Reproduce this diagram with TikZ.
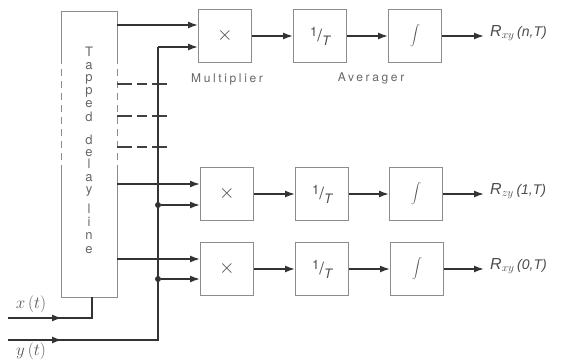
\RequirePackage{fix-cm}
\documentclass[tikz,border=0pt]{standalone}
\usepackage{fontspec}
\setmainfont{TeX Gyre Heros}
\newfontfamily\labfont[LetterSpace=22]{TeX Gyre Heros}
\newfontfamily\rfont{Liberation Sans}
\usetikzlibrary{arrows.meta}
\newcommand{\oneT}{\raisebox{5pt}{\fontsize{13}{15}\selectfont 1}{\fontsize{17}{19}\selectfont /}\raisebox{-4pt}{\fontsize{13}{15}\selectfont\itshape T}}
\begin{document}
\begin{tikzpicture}[x=1pt,y=-1pt,
  wire/.style={draw=black!80, line width=1.6pt},
  arr/.style={wire, -{Latex[length=10pt,width=7pt]}},
  blk/.style={draw=black!45, line width=0.9pt, minimum width=53pt, minimum height=53pt, inner sep=0pt, text=black!70, font=\fontsize{20}{22}\selectfont},
  edgeline/.style={draw=black!45, line width=0.9pt},
  tap/.style={draw=black!75, line width=1.6pt, dash pattern=on 15pt off 5pt on 10pt off 5pt},
  lbl/.style={text=black!60, font=\labfont\fontsize{12}{14}\selectfont, inner sep=0pt},
  dlet/.style={text=black!60, font=\fontsize{13}{15}\selectfont, inner sep=0pt, anchor=base},
  rlab/.style={text=black!70, font=\rfont\itshape\fontsize{16}{18}\selectfont, inner sep=0pt, anchor=west},
  sig/.style={text=black!65, font=\fontsize{17}{19}\selectfont, inner sep=0pt},
  dot/.style={circle, fill=black!80, inner sep=0pt, minimum size=6pt}
]
\useasboundingbox (0,0) rectangle (570,363);

% tapped delay line
\node[minimum width=55pt, minimum height=285pt, inner sep=0pt] (dl) at (89.5,154.5) {};
\coordinate (ds1) at (0,57);
\coordinate (ds2) at (0,172);
\draw[edgeline] (dl.west |- ds1) -- (dl.north west) -- (dl.north east) -- (dl.east |- ds1);
\draw[edgeline] (dl.west |- ds2) -- (dl.south west) -- (dl.south east) -- (dl.east |- ds2);
\draw[edgeline, dash pattern=on 7pt off 5pt] (dl.west |- ds1) -- (dl.west |- ds2);
\draw[edgeline, dash pattern=on 7pt off 5pt] (dl.east |- ds1) -- (dl.east |- ds2);
\foreach \ch/\yy [count=\k] in {T/57,a/70,p/82,p/95,e/108,d/122,d/145,e/157,l/169,a/182,y/194,l/214,i/227,n/240,e/254}
  \node[dlet] (let\k) at (89,\yy) {\ch};

% blocks
\node[blk] (M1) at (225,36) {$\times$};
\node[blk] (A1) at (320,36) {\oneT};
\node[blk] (I1) at (415,36) {$\displaystyle\int$};
\node[blk] (M2) at (227,194) {$\times$};
\node[blk] (A2) at (322,194) {\oneT};
\node[blk] (I2) at (416,194) {$\displaystyle\int$};
\node[blk] (M3) at (227,269) {$\times$};
\node[blk] (A3) at (322,269) {\oneT};
\node[blk] (I3) at (417,269) {$\displaystyle\int$};

\node[lbl] (mlab) at (227,79) {Multiplier};
\node[lbl] (alab) at (371,78) {Averager};

% chains
\draw[arr] (M1) -- (A1);
\draw[arr] (A1) -- (I1);
\draw[arr] (M2) -- (A2);
\draw[arr] (A2) -- (I2);
\draw[arr] (M3) -- (A3);
\draw[arr] (A3) -- (I3);
\coordinate (o1) at (484,36);
\coordinate (o2) at (484,194);
\coordinate (o3) at (484,269);
\draw[arr] (I1) -- (o1);
\draw[arr] (I2) -- (o2);
\draw[arr] (I3) -- (o3);
\node[rlab] (r1) at (490,33) {R$_{xy}$\,{\fontsize{14}{16}\selectfont(n,T)}};
\node[rlab] (r2) at (490,191) {R$_{zy}$\,{\fontsize{14}{16}\selectfont(1,T)}};
\node[rlab] (r3) at (490,266) {R$_{xy}$\,{\fontsize{14}{16}\selectfont(0,T)}};

% taps to multipliers
\draw[arr] (dl.east |- 0,25) -- (M1.west |- 0,25);
\draw[arr] (dl.east |- 0,184) -- (M2.west |- 0,184);
\draw[arr] (dl.east |- 0,259) -- (M3.west |- 0,259);
\draw[tap] (dl.east |- 0,84) -- (167,84);
\draw[tap] (dl.east |- 0,116) -- (167,116);
\draw[tap] (dl.east |- 0,147) -- (167,147);

% y(t) bus
\coordinate (yin) at (8,340);
\coordinate (ymid) at (62,340);
\coordinate (ybus) at (158,340);
\coordinate (ytop) at (158,47);
\node[dot] (j2) at (158,205) {};
\node[dot] (j3) at (158,279) {};
\draw[wire] (yin) -- (ybus) -- (ytop);
\draw[arr] (yin) -- (ymid);
\draw[arr] (ytop) -- (M1.west |- ytop);
\draw[arr] (j2) -- (M2.west |- j2);
\draw[arr] (j3) -- (M3.west |- j3);

% x(t) input
\coordinate (xin) at (8,318);
\coordinate (xmid) at (62,318);
\coordinate (xc) at (92,318);
\draw[wire] (xin) -- (xc) -- (xc |- dl.south);
\draw[arr] (xin) -- (xmid);

\node[sig] (xl) at (31,304) {$x\,(t)$};
\node[sig] (yl) at (31,351) {$y\,(t)$};
\end{tikzpicture}
\end{document}
